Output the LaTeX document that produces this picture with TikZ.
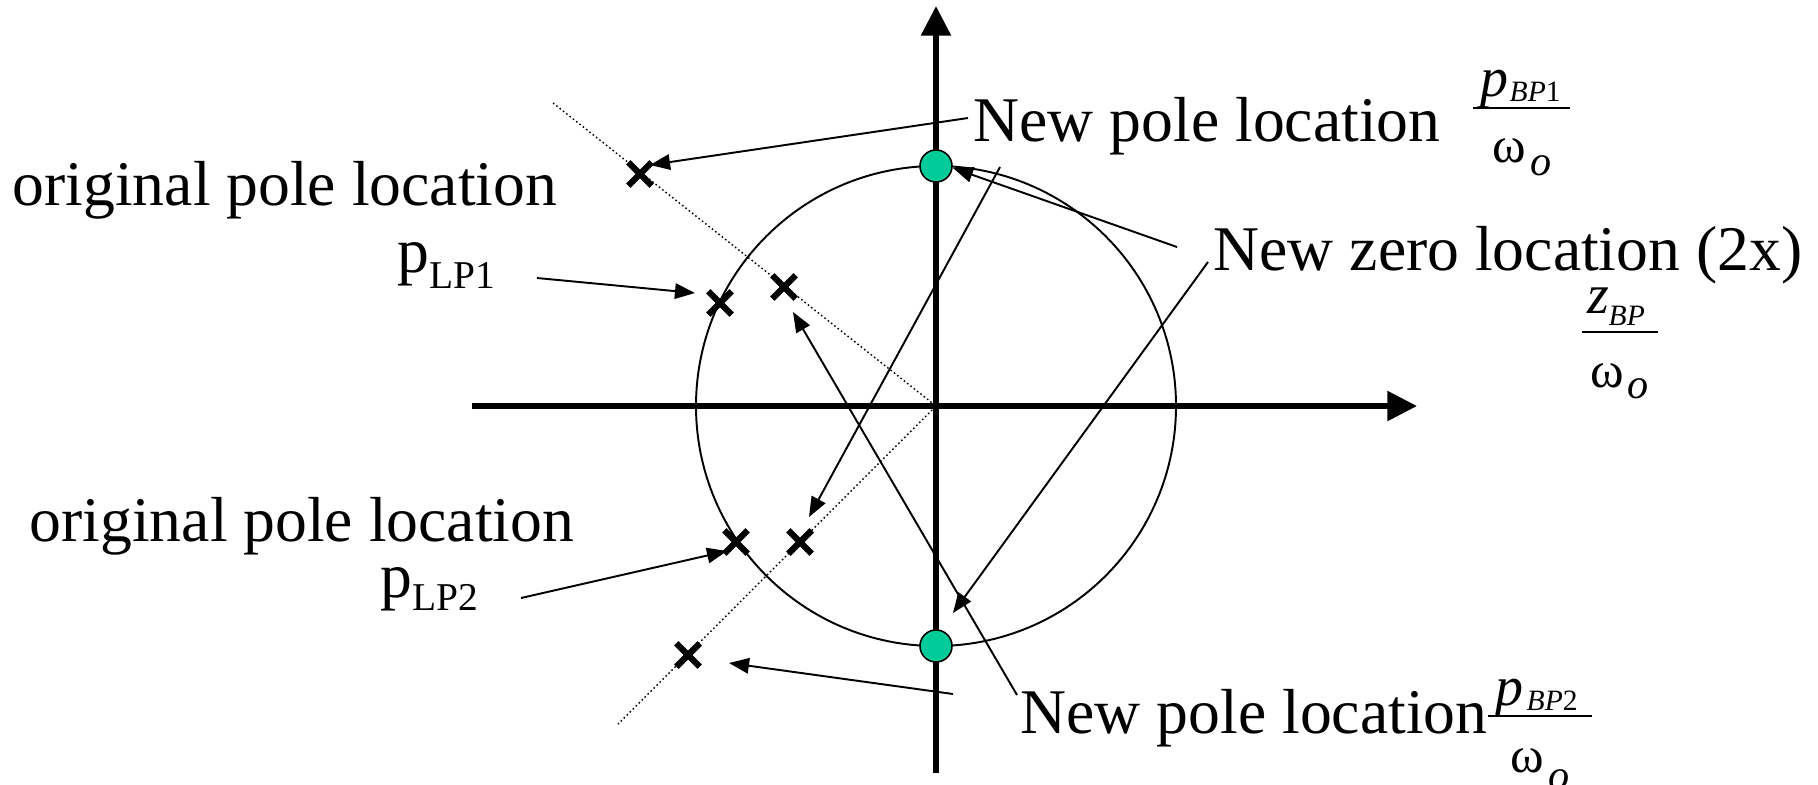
\documentclass[tikz,border=0pt]{standalone}
\usepackage{fontspec}
\setmainfont{Liberation Serif}
\usetikzlibrary{arrows.meta,shapes.misc}
\definecolor{zgreen}{RGB}{0,204,153}
\tikzset{
  lbl/.style={anchor=base west, inner sep=0pt, font=\fontsize{18.1}{20}\selectfont},
  num/.style={anchor=base west, inner sep=0pt, font=\fontsize{15.9}{17}\selectfont\itshape},
  fsub/.style={anchor=base west, inner sep=0pt, font=\fontsize{8.4}{9}\selectfont\itshape},
  om/.style={anchor=base west, inner sep=0pt, font=\fontsize{14.5}{16}\selectfont},
  osub/.style={anchor=base west, inner sep=0pt, font=\fontsize{12}{13}\selectfont\itshape},
  axis/.style={line width=1.6pt, -{Triangle[length=8.4pt,width=8.2pt]}},
  conn/.style={line width=0.55pt, -{Triangle[length=5.7pt,width=4.4pt]}},
  pole/.style={cross out, draw, line width=1.8pt, minimum size=0.17cm, inner sep=0pt},
  newpole/.style={circle, draw, line width=0.45pt, fill=zgreen, minimum size=0.32cm, inner sep=0pt},
  guide/.style={line width=0.4pt, dash pattern=on 0.45pt off 0.75pt},
  fbar/.style={line width=0.8pt},
  ucircle/.style={line width=0.55pt},
}
\begin{document}
\begin{tikzpicture}[x=0.01cm,y=-0.01cm]
\useasboundingbox (0,0) rectangle (1818,784);
\coordinate (O) at (936,406);
% unit circle
\draw[ucircle] (O) circle[radius=240];
% dotted guide lines
\coordinate (G1) at (553,103);
\coordinate (G2) at (618,724);
\draw[guide] (G1) -- (O) -- (G2);
% axes
\coordinate (XL) at (472,406);
\coordinate (XR) at (1417,406);
\coordinate (YB) at (936,773);
\coordinate (YT) at (936,6);
\draw[axis] (XL) -- (XR);
\draw[axis] (YB) -- (YT);
% poles (crosses)
\node[pole] (X1) at (640,174) {};
\node[pole] (X2) at (720,303) {};
\node[pole] (X3) at (784,287) {};
\node[pole] (X4) at (736,542) {};
\node[pole] (X5) at (800,542) {};
\node[pole] (X6) at (688,655) {};
% new pole locations
\node[newpole] (P1) at (936,166) {};
\node[newpole] (P2) at (936,646) {};
% labels
\node[lbl] (Torig1) at (12,205) {original pole location};
\node[lbl] (pLP1) at (397,272) {p\raisebox{-4.6pt}{\fontsize{11.2}{12}\selectfont LP1}};
\node[lbl] (Torig2) at (29,541) {original pole location};
\node[lbl] (pLP2) at (380,597) {p\raisebox{-3.8pt}{\fontsize{11.2}{12}\selectfont LP2}};
\node[lbl] (Tnew1) at (973,141) {New pole location};
\node[lbl] (Tzero) at (1213,270) {New zero location (2x)};
\node[lbl] (Tnew2) at (1020,733) {New pole location};
% fraction p_BP1 / omega_o
\node[num] (pBP1) at (1480,96) {p};
\node[fsub] (sBP1) at (1509,101) {BP\upshape 1};
\coordinate (b1l) at (1473,108); \coordinate (b1r) at (1570,108);
\draw[fbar] (b1l) -- (b1r);
\node[om] (w1) at (1492,162) {ω};
\node[osub] (o1) at (1530,175) {o};
% fraction z_BP / omega_o
\node[num] (zBP) at (1587,313) {z};
\node[fsub] (szBP) at (1608,325) {BP};
\coordinate (b2l) at (1582,332); \coordinate (b2r) at (1658,332);
\draw[fbar] (b2l) -- (b2r);
\node[om] (w2) at (1590,387) {ω};
\node[osub] (o2) at (1627,398) {o};
% fraction p_BP2 / omega_o
\node[num] (pBP2) at (1495,705) {p};
\node[fsub] (sBP2) at (1526,710) {BP\upshape 2};
\coordinate (b3l) at (1488,716); \coordinate (b3r) at (1592,716);
\draw[fbar] (b3l) -- (b3r);
\node[om] (w3) at (1510,772) {ω};
\node[osub] (o3) at (1548,789) {o};
% connector end points
\coordinate (a1s) at (968,118);  \coordinate (a1e) at (650,165);
\coordinate (a2s) at (537,278);  \coordinate (a2e) at (695,293);
\coordinate (a3s) at (1177,247); \coordinate (a3e) at (953,168);
\coordinate (a4s) at (1208,262); \coordinate (a4e) at (953,613);
\coordinate (a5s) at (1000,167); \coordinate (a5e) at (809,517);
\coordinate (a6s) at (1017,695); \coordinate (a6e) at (793,312);
\coordinate (a7s) at (953,694);  \coordinate (a7e) at (729,663);
\coordinate (a8s) at (521,598);  \coordinate (a8e) at (727,551);
% connectors
\draw[conn] (a1s) -- (a1e);
\draw[conn] (a2s) -- (a2e);
\draw[conn] (a3s) -- (a3e);
\draw[conn] (a4s) -- (a4e);
\draw[conn] (a5s) -- (a5e);
\draw[conn] (a6s) -- (a6e);
\draw[conn] (a7s) -- (a7e);
\draw[conn] (a8s) -- (a8e);
\end{tikzpicture}
\end{document}
